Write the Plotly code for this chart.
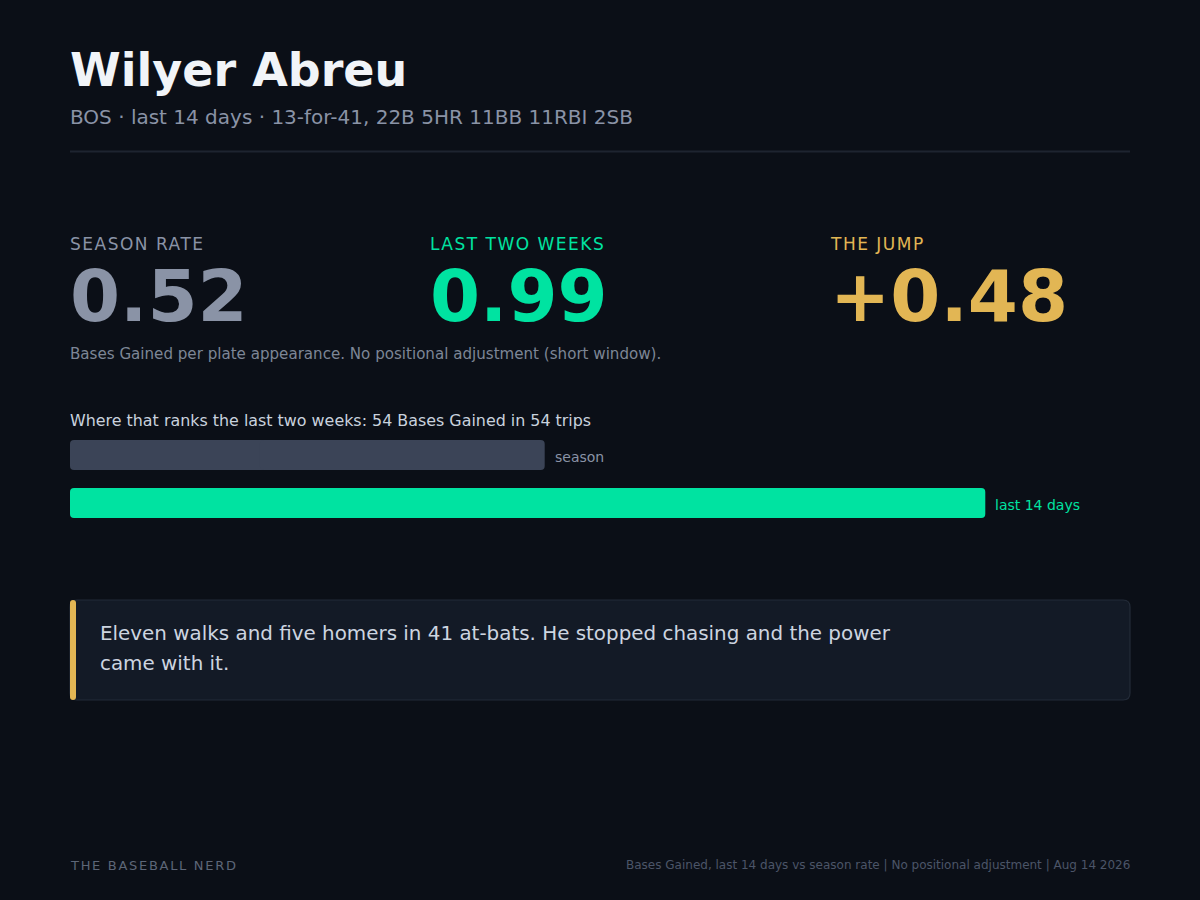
import plotly.graph_objects as go

# player card data
player = "Wilyer Abreu"
team = "BOS"
window_label = "last 14 days"
line_stats = "13-for-41, 22B 5HR 11BB 11RBI 2SB"
bar_labels = ["season", "last 14 days"]
bar_values = [0.515, 0.993]          # Bases Gained per PA
bases_gained = 54
trips = 54
quote_lines = ["Eleven walks and five homers in 41 at-bats. He stopped chasing and the power",
               "came with it."]
footer_left = "THE BASEBALL NERD"
footer_right = "Bases Gained, last 14 days vs season rate | No positional adjustment | Aug 14 2026"

BG = "#0b0f17"
GRAY = "#8a93a6"
GREEN = "#00e3a1"
GOLD = "#e2b654"
SEASON_BAR = "#3b4457"
FONT = "DejaVu Sans"

W, H = 1200, 900


def px(x):
    return x / W


def py(y):
    return 1 - y / H


def spaced(text, sp):
    return f'<span style="letter-spacing:{sp}px">{text}</span>'


season_rate, recent_rate = bar_values
jump = recent_rate - season_rate
bar_colors = [SEASON_BAR, GREEN]

fig = go.Figure()
# each bar is drawn as two overlapping halves so both ends get rounded corners
fig.add_trace(go.Bar(
    x=[-0.6 * v for v in bar_values], base=[0.6 * v for v in bar_values],
    y=[0, 1], orientation="h", width=0.625,
    marker=dict(color=bar_colors, line=dict(width=0)),
    hoverinfo="skip", showlegend=False,
))
fig.add_trace(go.Bar(
    x=[0.6 * v for v in bar_values], base=[0.4 * v for v in bar_values],
    y=[0, 1], orientation="h", width=0.625,
    marker=dict(color=bar_colors, line=dict(width=0)),
    hoverinfo="skip", showlegend=False,
))

ann = []


def text(x, y, s, size, color, bold=False, anchor="left", yanchor="middle"):
    # annotations carry ~2px of padding, compensate so text edges land on x
    x = x - 2 if anchor == "left" else x + 2
    ann.append(dict(
        x=px(x), y=py(y), xref="paper", yref="paper", text=f"<b>{s}</b>" if bold else s,
        showarrow=False, xanchor=anchor, yanchor=yanchor, align="left",
        font=dict(family=FONT, size=size, color=color),
    ))


# header
text(70, 70, player, 46, "#f1f4f8", bold=True)
text(70, 117, f"{team} · {window_label} · {line_stats}", 20, GRAY)

# three stat columns
cols = [
    (70, "SEASON RATE", f"{season_rate:.2f}", GRAY),
    (430, "LAST TWO WEEKS", f"{recent_rate:.2f}", GREEN),
    (830, "THE JUMP", f"{jump:+.2f}", GOLD),
]
for x, lab, val, col in cols:
    text(x, 244, spaced(lab, 1.5), 17, col)
    text(x, 296, val, 72, col, bold=True)

text(70, 354, "Bases Gained per plate appearance. No positional adjustment (short window).", 15.1, "#7d8696")
text(70, 420, f"Where that ranks the last two weeks: {bases_gained} Bases Gained in {trips} trips", 15.9, "#c9d2de")

# bar end labels, placed in data coords
for i, (lab, v) in enumerate(zip(bar_labels, bar_values)):
    ann.append(dict(
        x=v, y=i, xref="x", yref="y", text=lab, showarrow=False,
        xanchor="left", xshift=8, yshift=-2, font=dict(family=FONT, size=14, color=[GRAY, GREEN][i]),
    ))

# quote box text
for k, ln in enumerate(quote_lines):
    text(100, 633 + 30 * k, ln, 19.9, "#cdd5e0")

# footer
text(70, 865, spaced(footer_left, 1.7), 13, "#5d6677")
text(1130, 865, footer_right, 12, "#4b5568", anchor="right")

fig.update_layout(annotations=ann)


def rounded_rect(x0, y0, x1, y1, r):
    X0, X1 = px(x0), px(x1)
    Y0, Y1 = py(y0), py(y1)
    rx, ry = r / W, r / H
    return (f"M {X0+rx},{Y0} L {X1-rx},{Y0} Q {X1},{Y0} {X1},{Y0-ry} "
            f"L {X1},{Y1+ry} Q {X1},{Y1} {X1-rx},{Y1} L {X0+rx},{Y1} "
            f"Q {X0},{Y1} {X0},{Y1+ry} L {X0},{Y0-ry} Q {X0},{Y0} {X0+rx},{Y0} Z")


shapes = [
    dict(type="line", xref="paper", yref="paper", x0=px(70), x1=px(1130), y0=py(151.5), y1=py(151.5),
         line=dict(color="#1e2430", width=2)),
    dict(type="path", xref="paper", yref="paper", path=rounded_rect(70, 600, 1130, 700, 7),
         fillcolor="#131a26", line=dict(color="#232b38", width=1.2), layer="below"),
    dict(type="path", xref="paper", yref="paper", path=rounded_rect(70, 600, 76, 700, 3),
         fillcolor=GOLD, line=dict(width=0)),
]
fig.update_layout(shapes=shapes)

fig.update_layout(
    width=W, height=H,
    margin=dict(l=0, r=0, t=0, b=0),
    paper_bgcolor=BG, plot_bgcolor=BG,
    barmode="overlay",
    barcornerradius=4,
    xaxis=dict(domain=[px(70), px(1130)], range=[0, 1.15], visible=False, fixedrange=True),
    yaxis=dict(domain=[py(527), py(431)], range=[1.5, -0.5], visible=False, fixedrange=True),
    font=dict(family=FONT),
)

fig.write_html(
    "out.html",
    config={"displayModeBar": False},
    post_script="document.body.style.margin='0';document.body.style.background='#0b0f17';",
)
